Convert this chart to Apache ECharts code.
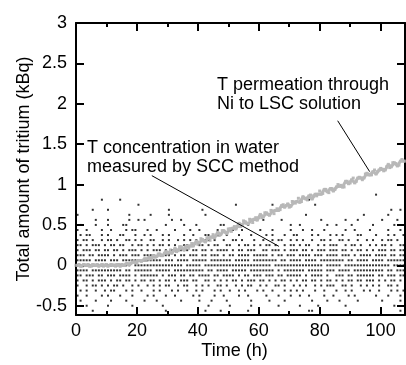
<!DOCTYPE html>
<html><head><meta charset="utf-8">
<script src="https://cdn.jsdelivr.net/npm/echarts@6/dist/echarts.min.js"></script>
<style>html,body{margin:0;padding:0;background:#fff}#c{width:406px;height:365px}</style>
</head><body><div id="c"></div>
<script>
// Axis ticks
const xTicks = [0, 20, 40, 60, 80, 100];
const xMinorTicks = [10, 30, 50, 70, 90];
const yTicks = [-0.5, 0, 0.5, 1, 1.5, 2, 2.5, 3];

// SCC measurements: quantized levels (k * step, kBq); one char per hour ('#' = measured point)
const levelStep = 0.0625;
const levelK = [14, 13, 12, 11, 10, 9, 8, 7, 6, 5, 4, 3, 2, 1, 0, -1, -2, -3, -4, -5, -6, -7, -8, -9];
const levelPatterns = [
  "............"+"............"+"............"+"............"+"............"+"............"+"............"+"............"+"..#.........",
  "........#..."+"..#........."+"............"+"............"+"............"+"............"+"....#......."+"............"+"............",
  "............"+"........#..."+"............"+"............"+"....#......."+"....#......."+"......#....."+"............"+"............",
  ".....#....#."+"............"+"......#....."+".....#......"+"............"+"............"+"............"+"............"+".......#..#.",
  "#..........."+".....#......"+"#.....#....."+"......#....."+"............"+"............"+"...#........"+"..........#."+"......#.....",
  "......#...#."+".....#..#.#."+".......#..#."+"............"+"............"+".#.....#...."+"........#..."+"....#...#..."+"....#....#..",
  ".#....#...#."+"...##......."+".....#.....#"+"...#.......#"+"#.......#..."+"..........#."+".#........#."+".#....#....."+".#......#...",
  "#..#....#..#"+"....#.##...#"+"..#.....#..."+".#..#.....#."+"...#..#....."+"#...#.....#."+"..#..#...#.."+"....#..#...."+"#.....#...#.",
  ".#.##...#.#."+"..##...#..#."+"#...#.#....#"+"..#...##..#."+".#...#...#.."+"..#.#...#..#"+"#....#.#...#"+".#.#....##.."+"..#...#.#..#",
  "#.##.#..#.##"+".#..##.#.#.."+"##..#.#..#.#"+".#.#..##.#.."+"#..##.#...#."+".#..#.##..#."+"#.#..#..##.#"+"..##.#..#..#"+".#..#.##.#..",
  "##.#.###.#.#"+"#.##..#.##.#"+".#.##.#.#..#"+"#.#.##.#.##."+".##..#.##.#."+"#.##.#..#.##"+".#.##..#.#.#"+"##..#.##.#.."+"#.#.##.#..##",
  "#.###.##.##."+"##.#.###.#.#"+".###.#.##.##"+"#.##.##.#.##"+"##.#.##.###."+".##.###.#.##"+"#.##.#.###.#"+"##.##.#.##.#"+".#.###.##.##",
  "###.##.####."+"#.###.###.##"+"##.####.#.##"+".###.##.###."+"#.##.####.##"+"###.#.##.###"+".####.###.##"+"##.###.#.###"+"#.####.##.##",
  "#####.####.#"+"##.######.##"+"####.###.###"+"#.#####.####"+"###.#####.##"+"######.##.##"+"##.####.####"+"####.##.####"+".####.######",
  "############"+"######.#####"+"###########."+"#####.######"+"############"+"####.#######"+"#########.##"+"###.########"+"#######.####",
  "####.#######"+"###.##.#####"+"#.#####.####"+"######.##.##"+"##.#####.###"+"#####.#.####"+"###.#####.##"+"#.####.#####"+"#####.##.###",
  "##.###.##.##"+"#.####.#.###"+"###.#.###.##"+".##.####.##."+"####.#.##.##"+"#.###.##.###"+"##.#.####.#."+".###.##.####"+"##.##.###.##",
  "#.##.#.###.#"+".##.##.#.##."+"##.#.##.#.##"+"#.##..##.#.#"+".#.##.#.###."+"##.#.#.##.#."+"#.##.##.#.##"+".#.#.##.##.#"+"##.#.#.##.#.",
  "#..#.##.#.#."+"##.#..#.#..#"+".#.#.##..#.#"+"#..#.#.#..##"+".#..#.#.##.."+"#.#..##.#..#"+".#.#..#.#.##"+"#..##.#..#.#"+".#.#..##.#..",
  ".#.#..#..#.#"+"#...#.#..#.."+".#.#...#.#.."+"#..#.#...#.#"+"..#..#.#...#"+".#..#...#.#."+"#.#...#..#.."+".#..#.#...#."+"#..#...#.#.#",
  "#..#....#.#."+"..#...#....#"+".#...#..#..."+"..#.#....#.."+"#....#..#..."+"..#...#...#."+".#..#....#.."+"#....#.#...."+"..#...#...#.",
  ".#....#....#"+"....#.....#."+"..#.......#."+"....#...#..."+".#.......#.."+"...#....#..."+".....#....#."+"..#.....#..."+"....#.....#.",
  "...#......#."+"......#....."+"....#......."+".......#...."+"..#......#.."+"......#....."+".#.....#...."+"....#......."+"........#...",
  ".....#......"+"............"+".....#......"+"......#....#"+"........#..."+"............"+"....##......"+"............"+"..........#."
];

// LSC permeation (grey): one reading per hour from 0 h, and one per hour from 0.5 h
const greyA = [0.00,0.01,-0.01,0.00,0.01,-0.01,0.00,0.01,0.00,-0.01,0.01,0.00,0.00,-0.01,0.01,
  0.01,0.00,0.02,0.02,0.04,0.03,0.06,0.06,0.06,0.10,0.10,0.10,0.14,0.12,0.15,
  0.14,0.19,0.18,0.17,0.23,0.20,0.23,0.21,0.27,0.27,0.26,0.33,0.30,0.34,0.31,0.38,0.37,0.37,0.43,0.41,
  0.45,0.42,0.48,0.48,0.48,0.55,0.52,0.57,0.53,0.59,0.59,0.59,0.65,0.63,0.68,0.64,0.70,0.69,0.75,0.74,
  0.72,0.79,0.77,0.83,0.79,0.83,0.81,0.87,0.86,0.86,0.92,0.89,0.94,0.90,0.95,0.94,1.00,0.99,0.97,1.04,
  1.02,1.08,1.04,1.09,1.06,1.13,1.12,1.12,1.18,1.16,1.20,1.17,1.22,1.21,1.27,1.26,1.24,1.31,1.29];
const greyB = [0.00,-0.01,0.01,0.00,-0.01,0.01,0.00,-0.01,0.01,0.00,-0.01,0.01,0.00,0.01,-0.01,
  0.00,0.02,0.01,0.04,0.04,0.06,0.05,0.08,0.08,0.08,0.12,0.11,0.14,0.12,0.17,
  0.16,0.15,0.21,0.18,0.23,0.19,0.24,0.24,0.24,0.30,0.28,0.32,0.29,0.34,0.35,0.34,0.41,0.38,0.43,0.39,
  0.45,0.46,0.45,0.52,0.50,0.54,0.51,0.56,0.57,0.56,0.63,0.60,0.65,0.62,0.67,0.68,0.68,0.74,0.72,0.76,
  0.73,0.78,0.79,0.78,0.85,0.82,0.86,0.82,0.88,0.88,0.88,0.94,0.91,0.95,0.92,0.97,0.98,0.97,1.04,1.01,
  1.06,1.02,1.08,1.08,1.08,1.14,1.12,1.16,1.13,1.18,1.19,1.18,1.25,1.22,1.27,1.23,1.29,1.29];

// Annotation leader lines (data coordinates)
const leaderPermeation = [[85.9, 1.79], [96.4, 1.16]];
const leaderSCC = [[24.9, 1.11], [66.6, 0.235]];

const labelPermeation = 'T permeation through\nNi to LSC solution';
const labelSCC = 'T concentration in water\nmeasured by SCC method';

// Build series data
const sccData = [];
levelPatterns.forEach((p, r) => {
  for (let i = 0; i < p.length; i++) {
    if (p[i] === '#') sccData.push([i + 0.5, levelK[r] * levelStep]);
  }
});
const greyDataA = greyA.map((v, i) => [i, v]);
const greyDataB = greyB.map((v, i) => [i + 0.5, v]);

const FONT = '"Liberation Sans", Arial, sans-serif';
const FS = 18;
const X_MIN = 0, X_MAX = 108, Y_MIN = -0.615, Y_MAX = 3;

function xAxisDef(pos, values, len, showLine, showLabel, name) {
  return {
    type: 'value', position: pos, min: X_MIN, max: X_MAX,
    name: name || '', nameLocation: 'middle', nameGap: 27, nameMoveOverlap: false,
    nameTextStyle: {fontFamily: FONT, fontSize: FS, color: '#000', padding: [0, 12, 0, 0]},
    axisLine: {show: showLine, onZero: false, lineStyle: {color: '#000', width: 2}},
    axisTick: {show: true, inside: true, length: len, customValues: values, lineStyle: {color: '#000', width: 2}},
    axisLabel: {show: showLabel, customValues: values, margin: 7, fontFamily: FONT, fontSize: FS, color: '#000'},
    splitLine: {show: false}
  };
}
function yAxisDef(pos, showLabel, name) {
  return {
    type: 'value', position: pos, min: Y_MIN, max: Y_MAX,
    name: name || '', nameLocation: 'middle', nameGap: 43, nameMoveOverlap: false,
    nameTextStyle: {fontFamily: FONT, fontSize: FS, color: '#000'},
    axisLine: {show: true, onZero: false, lineStyle: {color: '#000', width: 2}},
    axisTick: {show: true, inside: true, length: 8, customValues: yTicks, lineStyle: {color: '#000', width: 2}},
    axisLabel: {show: showLabel, customValues: yTicks, margin: 9, fontFamily: FONT, fontSize: FS, color: '#000'},
    splitLine: {show: false}
  };
}

const chart = echarts.init(document.getElementById('c'), null, {renderer: 'canvas'});
chart.setOption({
  animation: false,
  backgroundColor: '#fff',
  grid: {left: 76, right: 1, top: 23, bottom: 49, containLabel: false},
  xAxis: [
    xAxisDef('bottom', xTicks, 8, true, true, 'Time (h)'),
    xAxisDef('bottom', xMinorTicks, 4, false, false),
    xAxisDef('top', xTicks, 8, true, false),
    xAxisDef('top', xMinorTicks, 4, false, false)
  ],
  yAxis: [
    yAxisDef('left', true, 'Total amount of tritium (kBq)'),
    yAxisDef('right', false)
  ],
  series: [
    {type: 'scatter', data: sccData, symbol: 'rect', symbolSize: [2, 2],
     itemStyle: {color: '#000'}, silent: true},
    {type: 'line', data: greyDataB, showSymbol: false, symbol: 'none',
     lineStyle: {color: '#b8b8b8', width: 3}, silent: true},
    {type: 'scatter', data: greyDataA, symbol: 'rect', symbolSize: 3,
     itemStyle: {color: '#a8a8a8'}, silent: true},
    {type: 'scatter', data: greyDataB, symbol: 'rect', symbolSize: 3,
     itemStyle: {color: '#b0b0b0'}, silent: true},
    {type: 'line', data: leaderPermeation, showSymbol: false, symbol: 'none',
     lineStyle: {color: '#000', width: 1}, silent: true},
    {type: 'line', data: leaderSCC, showSymbol: false, symbol: 'none',
     lineStyle: {color: '#000', width: 1}, silent: true}
  ],
  graphic: [
    {type: 'text', left: 217, top: 76, silent: true,
     style: {text: labelPermeation, font: FS + 'px ' + FONT, fill: '#000', lineHeight: 19}},
    {type: 'text', left: 87, top: 139, silent: true,
     style: {text: labelSCC, font: FS + 'px ' + FONT, fill: '#000', lineHeight: 19}}
  ]
});
</script>
</body></html>
